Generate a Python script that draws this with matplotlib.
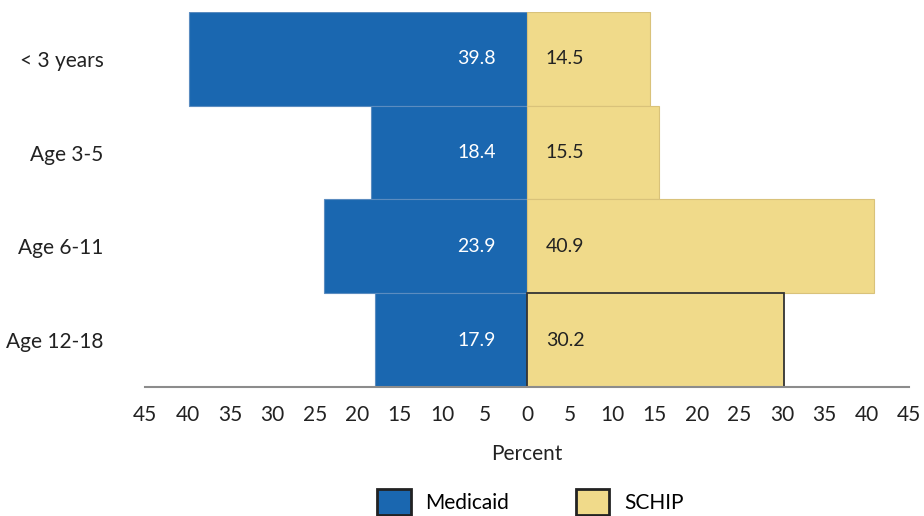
import numpy as np
import matplotlib.pyplot as plt
from matplotlib.patches import Patch

groups = ['< 3 years', 'Age 3-5', 'Age 6-11', 'Age 12-18']
medicaid = [39.8, 18.4, 23.9, 17.9]
schip = [14.5, 15.5, 40.9, 30.2]
ticks = [-45, -40, -35, -30, -25, -20, -15, -10, -5, 0, 5, 10, 15, 20, 25, 30, 35, 40, 45]

blue = '#1a67b0'
yellow = '#f0da8a'

plt.rcParams['font.family'] = ['Lato', 'DejaVu Sans']
plt.rcParams['font.size'] = 14

fig = plt.figure(figsize=(9.24, 5.16), dpi=100)
ax = fig.add_axes([0.157, 0.25, 0.827, 0.727])

y = np.arange(len(groups))
ax.barh(y, [-v for v in medicaid], height=1.0, color=blue, edgecolor='#5b8cc0', linewidth=0.8)
schip_edges = ['#d9c27a', '#d9c27a', '#d9c27a', '#333333']
ax.barh(y, schip, height=1.0, color=yellow, edgecolor=schip_edges, linewidth=[0.8, 0.8, 0.8, 1.3])

for i in range(len(groups)):
    ax.text(-3.7, y[i], f'{medicaid[i]:.1f}', color='white', ha='right', va='center', fontsize=14)
    ax.text(2.2, y[i], f'{schip[i]:.1f}', color='#222222', ha='left', va='center', fontsize=14)

ax.set_xlim(-45, 45)
ax.set_ylim(3.5, -0.5)
ax.set_yticks(y)
ax.set_yticklabels(groups, fontsize=15)
ax.set_xticks(ticks)
ax.set_xticklabels([str(abs(t)) for t in ticks], fontsize=15)
ax.tick_params(axis='y', length=0, pad=30, labelcolor='#222222')
ax.tick_params(axis='x', length=0, pad=13, labelcolor='#222222')
for s in ['top', 'right', 'left']:
    ax.spines[s].set_visible(False)
ax.spines['bottom'].set_color('#8c8c8c')
ax.spines['bottom'].set_linewidth(1.5)
ax.set_xlabel('Percent', color='#222222', labelpad=14, fontsize=15)

handles = [Patch(facecolor=blue, edgecolor='#222222', linewidth=2, label='Medicaid'),
           Patch(facecolor=yellow, edgecolor='#222222', linewidth=2, label='SCHIP')]
fig.legend(handles=handles, loc='lower center', bbox_to_anchor=(0.574, -0.035), ncol=2,
           frameon=False, handlelength=1.6, handleheight=1.6, columnspacing=3.2,
           handletextpad=0.7, fontsize=15)

fig.savefig('out.png', dpi=100)
